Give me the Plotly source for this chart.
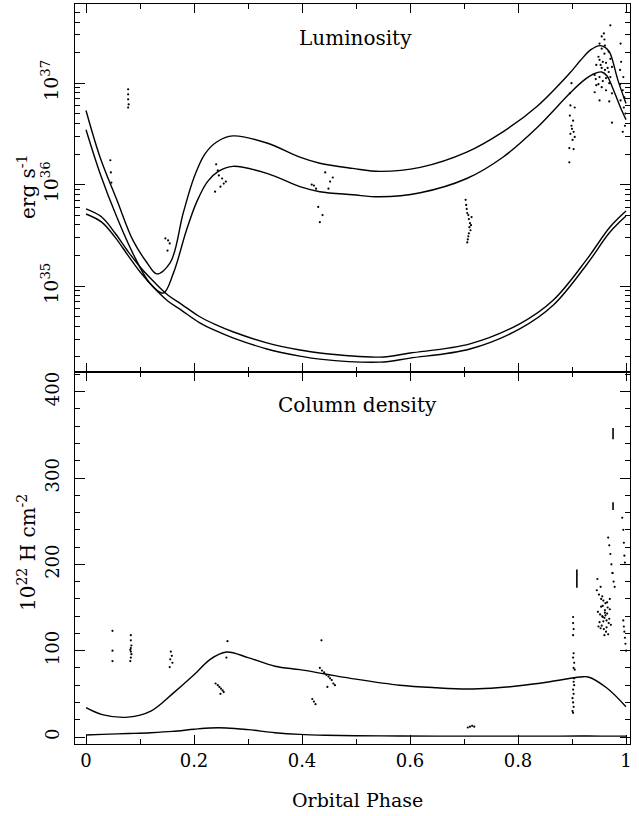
import numpy as np
import plotly.graph_objects as go

# ---------------- data ----------------
# Model curves, top panel (log10 luminosity, erg/s)
curveA_phase = [0, 0.026, 0.057, 0.087, 0.113, 0.131, 0.156, 0.18, 0.2, 0.22, 0.242, 0.272, 0.335, 0.396,
                0.433, 0.494, 0.544, 0.619, 0.705, 0.772, 0.835, 0.896, 0.915, 0.935, 0.952, 0.962, 0.97,
                0.985, 1.0]
curveA_logL = [36.73, 36.27, 35.85, 35.45, 35.23, 35.12, 35.23, 35.72, 36.07, 36.30, 36.42, 36.48, 36.41, 36.27,
               36.21, 36.16, 36.13, 36.17, 36.32, 36.52, 36.77, 37.10, 37.22, 37.33, 37.37, 37.35, 37.30,
               37.03, 36.80]
curveB_phase = [0, 0.026, 0.057, 0.087, 0.118, 0.143, 0.162, 0.186, 0.205, 0.225, 0.245, 0.272, 0.335, 0.396,
                0.433, 0.494, 0.544, 0.619, 0.705, 0.772, 0.835, 0.896, 0.92, 0.94, 0.955, 0.965, 0.974,
                0.989, 1.0]
curveB_logL = [36.54, 36.11, 35.68, 35.32, 35.03, 34.93, 35.13, 35.55, 35.83, 36.03, 36.13, 36.18, 36.11, 35.98,
               35.93, 35.90, 35.88, 35.92, 36.06, 36.27, 36.56, 36.90, 37.02, 37.09, 37.11, 37.07, 36.97,
               36.77, 36.64]
curveC_phase = [0, 0.029, 0.054, 0.078, 0.103, 0.128, 0.152, 0.177, 0.21, 0.24, 0.272, 0.335, 0.396, 0.433,
                0.544, 0.6, 0.711, 0.804, 0.865, 0.927, 0.97, 1.0]
curveC_logL = [35.76, 35.68, 35.52, 35.34, 35.17, 35.03, 34.91, 34.82, 34.70, 34.62, 34.55, 34.44, 34.37, 34.34,
               34.30, 34.34, 34.43, 34.63, 34.86, 35.26, 35.58, 35.74]
curveD_logL = [35.71, 35.63, 35.48, 35.30, 35.12, 34.97, 34.85, 34.76, 34.64, 34.56, 34.49, 34.38, 34.31, 34.28,
               34.25, 34.29, 34.38, 34.58, 34.81, 35.21, 35.53, 35.69]

# Model curves, bottom panel (column density, 1e22 H cm^-2)
nh_model_phase = [0, 0.03, 0.078, 0.12, 0.16, 0.2, 0.23, 0.26, 0.3, 0.35, 0.396, 0.443, 0.5, 0.581,
                  0.65, 0.705, 0.75, 0.798, 0.859, 0.915, 0.93, 0.964, 1.0]
nh_model_high = [34, 26, 23, 30, 50, 72, 90, 98.5, 92, 82, 78, 73, 67, 60,
                 57, 55.6, 56.5, 59, 64, 69.5, 69.5, 57, 35]
nh_model_low = [2.3, 3, 4, 5, 6.5, 9, 10.5, 10.5, 8.5, 5, 3, 2, 1.5, 1.2,
                1, 1, 1, 1, 1, 1.2, 1.2, 1, 1]

# Observations, top panel (phase, log10 luminosity)
obsL_phase = [0.045, 0.046, 0.047,
              0.078, 0.078, 0.078, 0.079, 0.078,
              0.147, 0.152, 0.155, 0.151,
              0.241, 0.244, 0.246, 0.239, 0.249, 0.255, 0.259, 0.252,
              0.418, 0.422, 0.426, 0.430, 0.433, 0.438, 0.443, 0.449, 0.452, 0.457,
              0.703, 0.704, 0.705, 0.706, 0.708, 0.709, 0.711, 0.710, 0.712, 0.709, 0.708, 0.707, 0.706, 0.713, 0.714,
              0.899, 0.896, 0.897, 0.905, 0.896, 0.902, 0.899, 0.900, 0.903, 0.897, 0.905, 0.901, 0.895, 0.903, 0.895,
              0.971, 0.959, 0.955, 0.960, 0.951, 0.961, 0.955, 0.968, 0.949, 0.971, 0.951, 0.957, 0.963, 0.945,
              0.974, 0.955, 0.961, 0.968, 0.942, 0.951, 0.963, 0.957, 0.969, 0.945, 0.955, 0.942, 0.963, 0.974,
              0.951, 0.969, 0.974, 0.949, 0.960, 0.971, 0.953, 0.966, 0.944,
              0.990, 0.991, 0.989, 0.994, 0.997, 0.990, 0.996, 0.999, 0.994, 0.998, 0.989, 0.995]
obsL_logL = [36.24, 36.12, 36.02,
             36.94, 36.89, 36.84, 36.79, 36.76,
             35.47, 35.45, 35.42, 35.35,
             36.20, 36.14, 36.09, 35.93, 35.98, 36.01, 36.03, 36.06,
             36.00, 35.99, 35.96, 35.78, 35.63, 35.70, 36.12, 35.96, 36.03, 36.07,
             35.85, 35.80, 35.76, 35.72, 35.70, 35.66, 35.62, 35.58, 35.55, 35.52, 35.49, 35.46, 35.43, 35.60, 35.68,
             37.00, 36.90, 36.78, 36.76, 36.68, 36.63, 36.58, 36.55, 36.52, 36.50, 36.47, 36.44, 36.36, 36.35, 36.22,
             37.57, 37.49, 37.46, 37.43, 37.39, 37.37, 37.34, 37.31, 37.26, 37.24, 37.23, 37.21, 37.20, 37.18,
             37.16, 37.15, 37.13, 37.11, 37.08, 37.06, 37.05, 37.02, 37.00, 36.98, 36.96, 36.91, 36.93, 36.90,
             36.83, 36.82, 36.61, 36.99, 37.29, 37.06, 37.18, 37.15, 37.04,
             37.39, 37.21, 36.99, 36.93, 36.86, 36.83, 36.76, 36.70, 36.52, 36.58, 37.13, 37.06]

# Observations, bottom panel (phase, column density)
obsN_phase = [0.049, 0.049, 0.049,
              0.083, 0.083, 0.084, 0.083, 0.082, 0.083, 0.084, 0.083, 0.082,
              0.157, 0.159, 0.156, 0.160, 0.155,
              0.262, 0.260,
              0.240, 0.244, 0.247, 0.250, 0.253, 0.255, 0.249,
              0.436, 0.419, 0.422, 0.425,
              0.433, 0.437, 0.441, 0.445, 0.449, 0.452, 0.455, 0.458, 0.461, 0.447,
              0.707, 0.711, 0.715, 0.719,
              0.902, 0.902, 0.903, 0.902, 0.903, 0.902, 0.904, 0.903, 0.905, 0.904, 0.903, 0.904, 0.902,
              0.903, 0.901, 0.902, 0.903, 0.901, 0.902,
              0.946, 0.950, 0.954, 0.958, 0.962, 0.966, 0.970, 0.948, 0.952, 0.956, 0.960, 0.964, 0.968,
              0.972, 0.949, 0.953, 0.957, 0.961, 0.965, 0.969, 0.951, 0.955, 0.959, 0.963, 0.967, 0.957,
              0.961, 0.954, 0.965, 0.958, 0.962, 0.956, 0.960, 0.964, 0.953, 0.970, 0.947, 0.975,
              0.967, 0.969, 0.971, 0.973, 0.975, 0.977, 0.979,
              0.993, 0.995, 0.996, 0.997, 0.998,
              0.995, 0.996, 0.997, 0.998, 0.999, 1.000]
obsN_nh = [123, 100, 88,
           118, 112, 106, 103, 101, 99, 96, 92, 88,
           99, 94, 90, 86, 81,
           111, 92,
           62, 60, 58, 56, 54, 52, 50,
           112, 44, 41, 38,
           80, 77, 75, 72, 70, 68, 66, 62, 60, 58,
           11, 12, 13, 12,
           139, 132, 125, 118, 97, 92, 86, 80, 78, 68, 64, 60, 55,
           50, 45, 40, 35, 30, 28,
           170, 165, 160, 158, 155, 150, 148, 145, 142, 140, 138, 135, 132,
           130, 128, 126, 152, 147, 143, 137, 133, 129, 125, 122, 119, 139,
           144, 151, 156, 134, 141, 163, 118, 127, 174, 160, 183, 190,
           231, 222, 212, 200, 190, 180, 174,
           254, 240, 225, 210, 202,
           135, 128, 122, 115, 108, 100]

# Vertical bars (measurement ranges), bottom panel
bar_phase = [0.909, 0.976, 0.976]
bar_low = [173, 345, 263]
bar_high = [194, 358, 272]

# Axis ticks
lum_tickvals = [1e35, 1e36, 1e37]
lum_ticktext = ["10<sup>35</sup>", "10<sup>36</sup>", "10<sup>37</sup>"]
lum_minor = [m * 10.0 ** d for d in (34, 35, 36, 37) for m in range(2, 10)]

# ---------------- figure ----------------
FONT = "DejaVu Serif"
W, H = 639, 816
L, R, T, B = 75, 9, 4, 72
split = (744 - 372) / 740.0

fig = go.Figure()
line_style = dict(color="black", width=1.4, shape="spline", smoothing=1.0)


def to_lum(logs):
    return [10.0 ** v for v in logs]


for ph, lg in ((curveA_phase, curveA_logL), (curveB_phase, curveB_logL),
               (curveC_phase, curveC_logL), (curveC_phase, curveD_logL)):
    fig.add_trace(go.Scatter(x=ph, y=to_lum(lg), mode="lines", line=line_style,
                             xaxis="x", yaxis="y", showlegend=False, hoverinfo="skip"))

dot = dict(color="black", size=2.2, line=dict(width=0))
fig.add_trace(go.Scatter(x=obsL_phase, y=to_lum(obsL_logL), mode="markers", marker=dot,
                         xaxis="x", yaxis="y", showlegend=False))

for yy in (nh_model_high, nh_model_low):
    fig.add_trace(go.Scatter(x=nh_model_phase, y=yy, mode="lines", line=line_style,
                             xaxis="x2", yaxis="y2", showlegend=False, hoverinfo="skip"))

fig.add_trace(go.Scatter(x=obsN_phase, y=obsN_nh, mode="markers", marker=dot,
                         xaxis="x2", yaxis="y2", showlegend=False))

bx, by = [], []
for p, lo, hi in zip(bar_phase, bar_low, bar_high):
    bx += [p, p, None]
    by += [lo, hi, None]
fig.add_trace(go.Scatter(x=bx, y=by, mode="lines", line=dict(color="black", width=1.6),
                         xaxis="x2", yaxis="y2", showlegend=False, hoverinfo="skip"))

xcommon = dict(range=[-0.0204, 1.0074], tick0=0, dtick=0.2, ticks="inside", ticklen=9,
               tickcolor="black", tickwidth=1, showline=True, linecolor="black", linewidth=1.2,
               mirror="allticks", showgrid=False, zeroline=False,
               minor=dict(ticks="inside", ticklen=5, dtick=0.1, tick0=0, tickcolor="black", showgrid=False))

fig.update_layout(
    width=W, height=H,
    margin=dict(l=L, r=R, t=T, b=B),
    paper_bgcolor="white", plot_bgcolor="white",
    font=dict(family=FONT, size=17, color="black"),
    showlegend=False,
    xaxis=dict(xcommon, anchor="y", showticklabels=False),
    xaxis2=dict(xcommon, anchor="y2", matches="x", showticklabels=True,
                tickvals=[0, 0.2, 0.4, 0.6, 0.8, 1.0],
                ticktext=["0", "0.2", "0.4", "0.6", "0.8", "1"],
                tickfont=dict(family=FONT, size=18)),
    yaxis=dict(domain=[split, 1], type="log", range=[34.153, 37.78], anchor="x",
               tickvals=lum_tickvals, ticktext=lum_ticktext, tickangle=-90, ticklabelstandoff=8,
               ticks="inside", ticklen=10, tickcolor="black", showline=True, linecolor="black",
               linewidth=1.2, mirror="allticks", showgrid=False, zeroline=False,
               tickfont=dict(family=FONT, size=19),
               minor=dict(ticks="inside", ticklen=5, tickvals=lum_minor, tickcolor="black",
                          showgrid=False)),
    yaxis2=dict(domain=[0, split], range=[-8.1, 422.8], anchor="x2", tick0=0, dtick=100,
                tickangle=-90, ticklabelstandoff=8, ticks="inside", ticklen=10, tickcolor="black",
                showline=True, linecolor="black", linewidth=1.2, mirror="allticks", showgrid=False,
                zeroline=False, tickfont=dict(family=FONT, size=18),
                minor=dict(ticks="inside", ticklen=5, dtick=20, tick0=0, tickcolor="black",
                           showgrid=False)),
)


def px_x(px):
    return (px - L) / (W - L - R)


def px_y(py):
    return (H - B - py) / (H - T - B)


annots = [
    dict(text="Luminosity", x=px_x(355), y=px_y(38), size=20, angle=0),
    dict(text="Column density", x=px_x(357), y=px_y(405), size=20, angle=0),
    dict(text="erg s<sup>-1</sup>", x=px_x(27), y=px_y(187), size=20, angle=-90),
    dict(text="10<sup>22</sup> H cm<sup>-2</sup>", x=px_x(27), y=px_y(553), size=20, angle=-90),
    dict(text="Orbital Phase", x=px_x(357), y=px_y(800), size=19, angle=0),
]
for a in annots:
    fig.add_annotation(text=a["text"], x=a["x"], y=a["y"], xref="paper", yref="paper",
                       showarrow=False, textangle=a["angle"], xanchor="center", yanchor="middle",
                       font=dict(family=FONT, size=a["size"], color="black"))

fig.write_html("out.html", config={"displayModeBar": False},
               post_script="document.body.style.margin='0';document.body.style.overflow='hidden';")
